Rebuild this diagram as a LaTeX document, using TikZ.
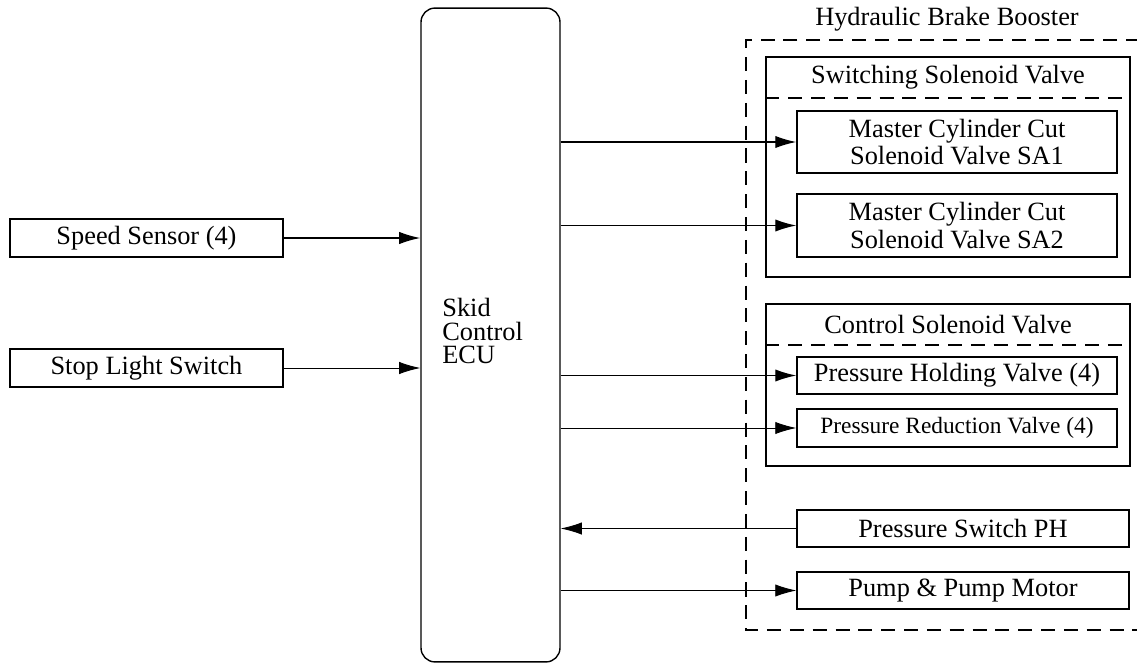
\documentclass[tikz,border=0pt]{standalone}
\usepackage{fontspec}
\setmainfont{Liberation Serif}
\usetikzlibrary{arrows.meta}

\tikzset{
    block/.style={draw, line width=0.8pt, inner sep=0pt, align=center,
        font=\fontsize{15}{15.5}\selectfont},
    group/.style={draw, line width=0.8pt, inner sep=0pt},
    grouptitle/.style={anchor=north, inner sep=0pt, minimum height=0.82cm,
        font=\fontsize{15}{15.5}\selectfont},
    signal/.style={-{Latex[length=12pt,width=7pt]}, line width=0.8pt},
    thinsignal/.style={signal, line width=0.5pt},
    booster/.style={line width=0.6pt, dash pattern=on 8pt off 5pt}
}

\begin{document}
\begin{tikzpicture}[x=0.02cm, y=-0.02cm]
                \useasboundingbox (0,0) rectangle (1137,666);
                % inputs and ECU
                \node[block, minimum width=5.46cm, minimum height=0.76cm] (speed) at (146.5,238) {Speed Sensor (4)};
                \node[block, minimum width=5.46cm, minimum height=0.76cm] (stop) at (146.5,368) {Stop Light Switch};
                \node[block, rounded corners=0.28cm, minimum width=2.78cm, minimum height=13.08cm] (ecu) at (490.5,335) {};
                \node[anchor=west, align=left, inner sep=0pt, font=\fontsize{15}{13.6}\selectfont] (ecutext) at (442,331) {Skid\\Control\\ECU};
                % hydraulic brake booster
                \draw[booster] (1140,40) -- (746,40) -- (746,630) -- (1140,630);
                \node[font=\fontsize{15}{15.5}\selectfont, inner sep=0pt] (hbb) at (947,19) {Hydraulic Brake Booster};
                \node[group, minimum width=7.28cm, minimum height=4.4cm] (swbox) at (948,167) {};
                \node[grouptitle] (swtitle) at (swbox.north) {Switching Solenoid Valve};
                \draw[booster] (swbox.west |- swtitle.south) -- (swbox.east |- swtitle.south);
                \node[block, minimum width=6.4cm, minimum height=1.24cm] (sa1) at (957,142) {Master Cylinder Cut\\Solenoid Valve SA1};
                \node[block, minimum width=6.4cm, minimum height=1.26cm] (sa2) at (957,225.5) {Master Cylinder Cut\\Solenoid Valve SA2};
                \node[group, minimum width=7.28cm, minimum height=3.24cm] (ctbox) at (948,385) {};
                \node[grouptitle] (cttitle) at (ctbox.north) {Control Solenoid Valve};
                \draw[booster] (ctbox.west |- cttitle.south) -- (ctbox.east |- cttitle.south);
                \node[block, minimum width=6.4cm, minimum height=0.74cm] (phv) at (957,375.5) {Pressure Holding Valve (4)};
                \node[block, minimum width=6.4cm, minimum height=0.76cm, font=\fontsize{13.3}{14}\selectfont] (prv) at (957,428) {Pressure Reduction Valve (4)};
                \node[block, minimum width=6.64cm, minimum height=0.74cm] (ph) at (963,528.5) {Pressure Switch PH};
                \node[block, minimum width=6.64cm, minimum height=0.74cm] (pump) at (963,590.5) {Pump \& Pump Motor};
                % signals
                \draw[signal] (speed.east) -- (speed.east -| ecu.west);
                \draw[thinsignal] (stop.east) -- (stop.east -| ecu.west);
                \draw[signal] (sa1.west -| ecu.east) -- (sa1.west);
                \draw[signal] (sa2.west -| ecu.east) -- (sa2.west);
                \draw[signal] (phv.west -| ecu.east) -- (phv.west);
                \draw[thinsignal] (prv.west -| ecu.east) -- (prv.west);
                \draw[thinsignal] (ph.west) -- (ph.west -| ecu.east);
                \draw[thinsignal] (pump.west -| ecu.east) -- (pump.west);
            \end{tikzpicture}
\end{document}
